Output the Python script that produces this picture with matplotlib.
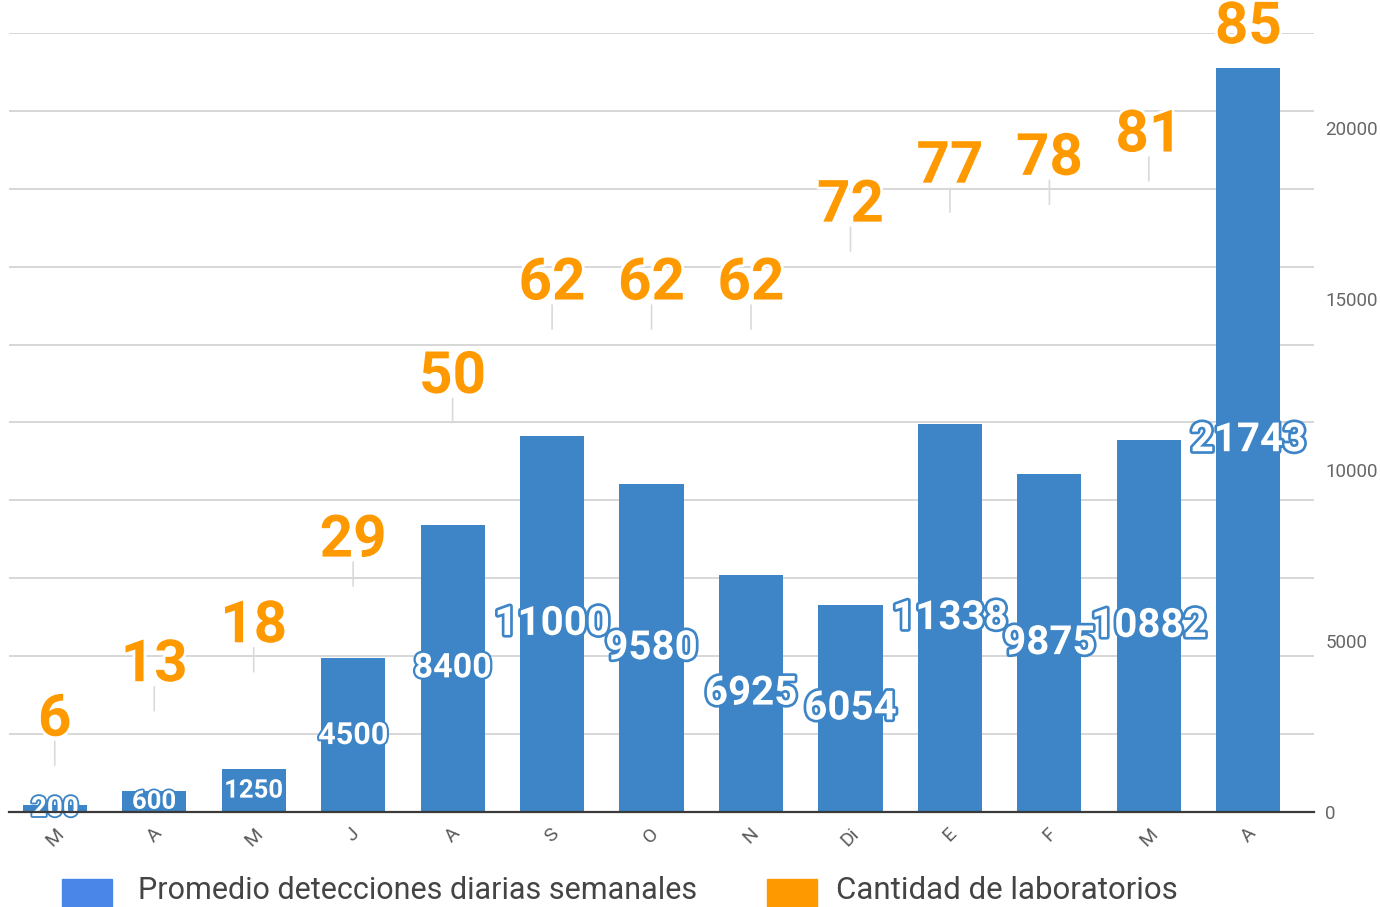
import matplotlib
matplotlib.use("Agg")
import matplotlib.pyplot as plt
import matplotlib.patheffects as pe
from matplotlib.patches import Rectangle
from matplotlib import font_manager

# ---- data ----
months = ['M', 'A', 'M', 'J', 'A', 'S', 'O', 'N', 'Di', 'E', 'F', 'M', 'A']
detections = [200, 600, 1250, 4500, 8400, 11000, 9580, 6925, 6054, 11338, 9875, 10882, 21743]
labs = [6, 13, 18, 29, 50, 62, 62, 62, 72, 77, 78, 81, 85]
right_ticks = [0, 5000, 10000, 15000, 20000]
legend_labels = ['Promedio detecciones diarias semanales', 'Cantidad de laboratorios']

BLUE = '#3d85c6'
ORANGE = '#ff9900'

names = {f.name for f in font_manager.fontManager.ttflist}
main_font = 'Roboto' if 'Roboto' in names else 'DejaVu Sans'
plt.rcParams['font.family'] = [main_font, 'DejaVu Sans']

W, H = 1380, 907
fig = plt.figure(figsize=(W / 100, H / 100), dpi=100)
fig.patch.set_facecolor('white')

x0, x1, ytop, ybot = 9, 1314, 33, 812
ax1 = fig.add_axes([x0 / W, (H - ybot) / H, (x1 - x0) / W, (ybot - ytop) / H])
ax1.set_ylim(0, 100)
ax1.set_xlim(-0.46, len(months) - 1 + 0.66)
ax1.set_yticks(range(0, 101, 10))
ax1.yaxis.grid(True, color='#d4d4d4', lw=1.3)
ax1.set_axisbelow(True)
ax1.tick_params(axis='y', length=0, labelleft=False)
for s in ax1.spines.values():
    s.set_visible(False)
xs = list(range(len(months)))
ax1.set_xticks(xs)
ax1.set_xticklabels(months, rotation=45, ha='center', va='top',
                    fontsize=14, color='#5a5a5a')
ax1.tick_params(axis='x', length=0, pad=9)

# orange series: labels with leader lines
lift = [45] * (len(labs) - 1) + [122]
for i, v in enumerate(labs):
    ax1.annotate('', xy=(i, v), xytext=(0, 24), textcoords='offset pixels',
                 arrowprops=dict(arrowstyle='-', color='#dadada', lw=1.2,
                                 shrinkA=0, shrinkB=0))
    ax1.annotate(str(v), xy=(i, v), xytext=(0, lift[i]), textcoords='offset pixels',
                 ha='center', va='center', fontsize=42, fontweight='bold',
                 color=ORANGE,
                 path_effects=[pe.Stroke(linewidth=4, foreground='white'), pe.Normal()])

# bars on right axis
ax2 = ax1.twinx()
ax2.set_ylim(0, 20000 * (ybot - ytop) / (812 - 128))
ax2.bar(xs, detections, width=0.645, color=BLUE, zorder=2)
ax2.set_yticks(right_ticks)
ax2.set_yticklabels([str(t) for t in right_ticks], fontsize=13.5, color='#666666')
ax2.tick_params(axis='y', length=0, pad=8)
for k, s in ax2.spines.items():
    s.set_visible(k == 'bottom')
ax2.spines['bottom'].set_color('#3a3a3a')
ax2.spines['bottom'].set_linewidth(1.6)
ax2.spines['bottom'].set_zorder(5)
bar_label_sizes = [20, 18.5, 18.5, 22, 24.5, 29, 29, 29, 29, 29, 29, 29, 29]
for i, v in enumerate(detections):
    fs = bar_label_sizes[i]
    ax2.text(i, v / 2, str(v), ha='center', va='center', fontsize=fs,
             fontweight='bold', color='white', zorder=4,
             path_effects=[pe.Stroke(linewidth=fs / 7.5, foreground=BLUE), pe.Normal()])

# legend
fig.patches.append(Rectangle((62 / W, -20 / H), 50 / W, (28 + 20) / H,
                             transform=fig.transFigure, color='#4a86e8'))
fig.patches.append(Rectangle((767 / W, -20 / H), 50 / W, (28 + 20) / H,
                             transform=fig.transFigure, color=ORANGE))
fig.text(138 / W, 8 / H, legend_labels[0], fontsize=22, color='#444444',
         va='baseline', ha='left')
fig.text(836 / W, 8 / H, legend_labels[1], fontsize=22.5, color='#444444',
         va='baseline', ha='left')

fig.savefig('out.png', dpi=100, facecolor='white')
